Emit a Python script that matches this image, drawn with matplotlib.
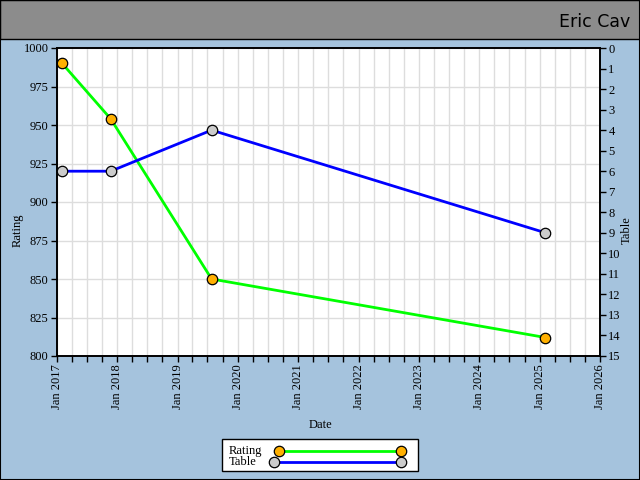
import datetime as dt
import matplotlib
matplotlib.use('Agg')
import matplotlib.pyplot as plt
import matplotlib.dates as mdates
from matplotlib.patches import Rectangle
from matplotlib.lines import Line2D

# data
dates = [dt.date(2017, 2, 1), dt.date(2017, 11, 22), dt.date(2019, 7, 26), dt.date(2025, 2, 5)]
rating = [990, 954, 850, 812]
table = [6, 6, 4, 9]
title = 'Eric Cav'

plt.rcParams['font.family'] = ['Liberation Serif', 'DejaVu Serif']
bg = '#a5c3dd'
W, H = 640, 480

fig = plt.figure(figsize=(6.4, 4.8), dpi=100, facecolor=bg)
fig.patches.append(Rectangle((0, 1 - 39 / H), 1, 39 / H, transform=fig.transFigure,
                             facecolor='#8c8c8c', edgecolor='black', linewidth=1, zorder=0))
fig.patches.append(Rectangle((0, 0), 1, 1, transform=fig.transFigure,
                             facecolor='none', edgecolor='black', linewidth=1.5, zorder=5))
fig.text(0.984, 1 - 22 / H, title, ha='right', va='center', fontsize=12.5,
         family=['DejaVu Sans'], color='black')

ax = fig.add_axes([57 / W, 1 - 356 / H, 543 / W, 308 / H])
ax.set_facecolor('white')
ax2 = ax.twinx()

line_kw = dict(lw=2, marker='o', ms=7.5, mec='black', mew=0.9)
ax.plot(dates, rating, color='#00ff00', mfc='#ffb000', zorder=3, **line_kw)
ax2.plot(dates, table, color='#0000ff', mfc='#cccccc', zorder=3, **line_kw)

ax.set_xlim(dt.date(2017, 1, 1), dt.date(2026, 1, 1))
ax.set_ylim(800, 1000)
ax.set_yticks(range(800, 1001, 25))
ax2.set_ylim(15, 0)
ax2.set_yticks(range(0, 16))

ax.xaxis.set_major_locator(mdates.YearLocator())
ax.xaxis.set_minor_locator(mdates.MonthLocator(bymonth=[4, 7, 10]))
ax.xaxis.set_major_formatter(mdates.DateFormatter('Jan %Y'))
for lab in ax.get_xticklabels():
    lab.set_rotation(90)

ax.grid(True, which='both', axis='x', color='#dddddd', lw=1)
ax.grid(True, which='major', axis='y', color='#dddddd', lw=1)
ax.set_axisbelow(True)

for a in (ax, ax2):
    a.tick_params(labelsize=9, length=4, width=1, color='black', pad=2)
    a.tick_params(which='minor', length=4, width=1)
    for s in a.spines.values():
        s.set_linewidth(1.2)

ax.set_xlabel('Date', fontsize=9)
ax.set_ylabel('Rating', fontsize=9)
ax2.set_ylabel('Table', fontsize=9)
ax.xaxis.set_label_coords((320 - 57) / 543, (356 - 419) / 308)
ax.yaxis.set_label_coords((24 - 57) / 543, (356 - 230) / 308)
ax2.yaxis.set_label_coords((621 - 57) / 543, (356 - 230) / 308)

# legend box drawn by hand: text on the left, sample line with both end markers
fig.patches.append(Rectangle((222 / W, 1 - 471 / H), 196 / W, 32 / H, transform=fig.transFigure,
                             facecolor='white', edgecolor='black', linewidth=1, zorder=4))
legend_rows = [('Rating', '#00ff00', '#ffb000', 279, 451), ('Table', '#0000ff', '#cccccc', 274, 462)]
for name, col, mcol, x0, yy in legend_rows:
    fig.text(229 / W, 1 - yy / H, name, ha='left', va='center', fontsize=9, zorder=6)
    fig.lines.append(Line2D([x0 / W, 401 / W], [1 - yy / H] * 2, transform=fig.transFigure,
                            color=col, mfc=mcol, zorder=6, **line_kw))

fig.savefig('out.png', dpi=100, facecolor=bg)
